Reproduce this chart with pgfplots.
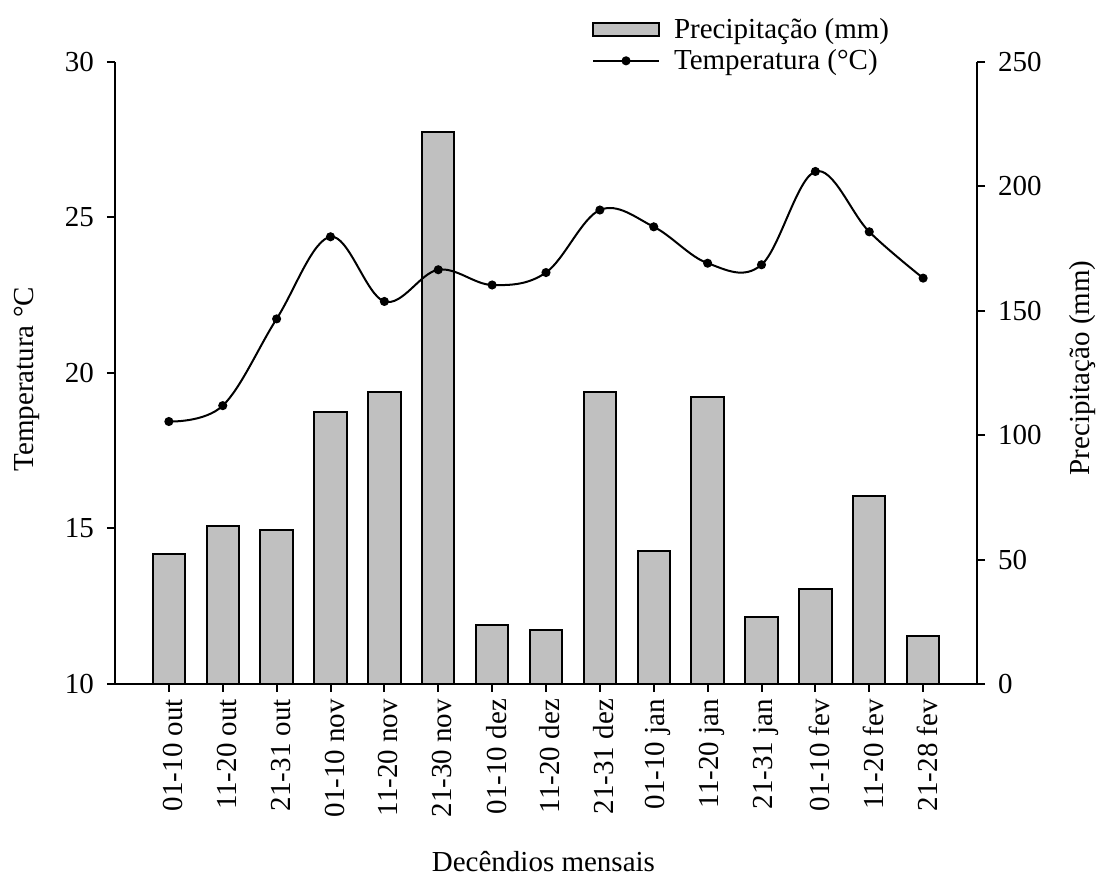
\documentclass[border=0pt]{standalone}
\usepackage{fontspec}
\setmainfont{Liberation Serif}
\usepackage{pgfplots}
\pgfplotsset{compat=1.18}
\definecolor{barfill}{RGB}{192,192,192}
\pgfplotsset{every axis/.append style={font=\fontsize{14.5}{17.4}\selectfont},
  mybarlegend/.style={legend image code/.code={\draw[##1] (0pt,-3.25pt) rectangle (33pt,3.25pt);}},
  mylinelegend/.style={legend image code/.code={\draw[##1, mark repeat=2, mark phase=2] plot coordinates {(0pt,0pt) (16.5pt,0pt) (33pt,0pt)};}},
}
\begin{document}
\begin{tikzpicture}[font=\fontsize{14.5}{17.4}\selectfont]
\path[use as bounding box] (0,0) rectangle (548.5pt,438.5pt);
% precipitation axis (right)
\begin{axis}[
  at={(57.5pt,96.5pt)}, anchor=south west,
  scale only axis, width=431pt, height=311pt,
  xmin=0, xmax=16, ymin=0, ymax=250,
  axis x line*=bottom, axis y line*=right,
  axis line style={-, line width=1pt},
  tick style={line width=1pt, black},
  tick align=outside, major tick length=4pt,
  xtick={1,...,15},
  xticklabels={01-10 out,11-20 out,21-31 out,01-10 nov,11-20 nov,21-30 nov,01-10 dez,11-20 dez,21-31 dez,01-10 jan,11-20 jan,21-31 jan,01-10 fev,11-20 fev,21-28 fev},
  xticklabel style={rotate=90, anchor=east, yshift=-2pt},
  ytick={0,50,100,150,200,250},
  yticklabel style={xshift=3pt},
  /pgf/number format/assume math mode=true,
  ylabel={Precipitação (mm)},
  ylabel style={at={(axis description cs:1.122,0.508)}, anchor=center, rotate=0},
  xlabel={Decêndios mensais},
  xlabel style={at={(axis description cs:0.497,-0.286)}, anchor=center},
]
\addplot[ybar, bar width=0.6, fill=barfill, draw=black, line width=1pt] coordinates {
(1,52.1) (2,63.4) (3,61.8) (4,109.2) (5,117.2) (6,221.7) (7,23.7) (8,21.8)
(9,117.2) (10,53.3) (11,115.2) (12,27.0) (13,38.0) (14,75.4) (15,19.4)};
\end{axis}
% temperature axis (left)
\begin{axis}[
  at={(57.5pt,96.5pt)}, anchor=south west,
  scale only axis, width=431pt, height=311pt,
  xmin=0, xmax=16, ymin=10, ymax=30,
  axis x line=none, axis y line*=left,
  axis line style={-, line width=1pt},
  tick style={line width=1pt, black},
  tick align=outside, major tick length=4pt,
  ytick={10,15,20,25,30},
  yticklabel style={xshift=-3pt},
  /pgf/number format/assume math mode=true,
  ylabel={Temperatura °C},
  ylabel style={at={(axis description cs:-0.102,0.49)}, anchor=center},
  legend style={draw=none, fill=none, at={(0.546,1.084)}, anchor=north west,
    legend cell align=left, row sep=0pt,
    nodes={inner sep=2pt},
    /tikz/every odd column/.append style={column sep=5pt}},
  legend columns=1,
]
\addlegendimage{fill=barfill, draw=black, line width=1pt, mybarlegend}
\addlegendentry{Precipitação (mm)}
\addplot[smooth, tension=0.6, black, line width=1pt, mark=*, mark size=1.75pt, mylinelegend]
coordinates {
(1,18.44) (2,18.95) (3,21.74) (4,24.38) (5,22.30) (6,23.32) (7,22.83) (8,23.23)
(9,25.24) (10,24.70) (11,23.53) (12,23.48) (13,26.48) (14,24.54) (15,23.05)};
\addlegendentry{Temperatura (°C)}
\end{axis}
\end{tikzpicture}
\end{document}
